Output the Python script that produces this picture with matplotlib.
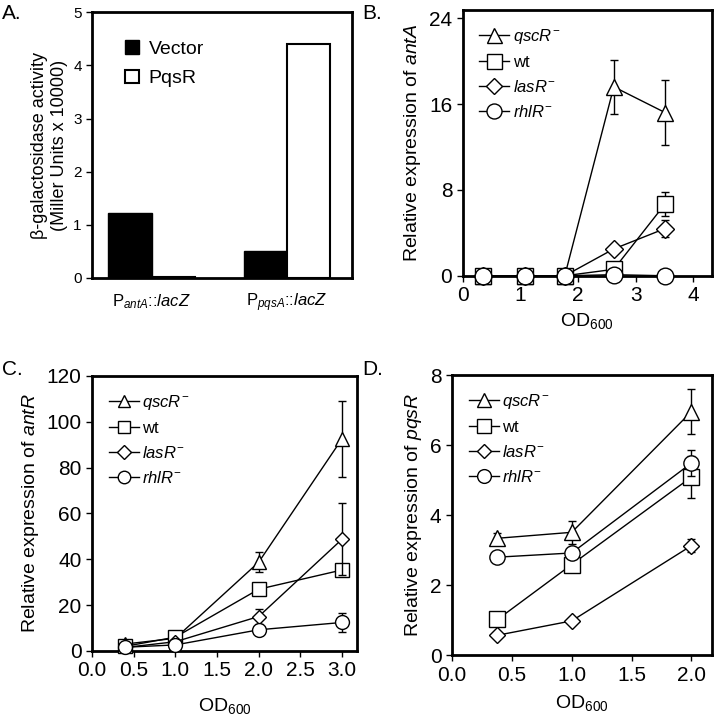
import numpy as np
import matplotlib
matplotlib.use("Agg")
import matplotlib.pyplot as plt
from matplotlib.lines import Line2D

plt.rcParams['font.family'] = ['Liberation Sans', 'DejaVu Sans']
plt.rcParams['mathtext.fontset'] = 'custom'
plt.rcParams['mathtext.rm'] = 'Liberation Sans'
plt.rcParams['mathtext.it'] = 'Liberation Sans:italic'
plt.rcParams['mathtext.bf'] = 'Liberation Sans:bold'

# panel A data
constructos = [r'P$_{\it{antA}}$::$\it{lacZ}$', r'P$_{\it{pqsA}}$::$\it{lacZ}$']
vector = [1.22, 0.5]
pqsr = [0.02, 4.4]

# panel B data (antA)
odB = [0.35, 1.08, 1.77, 2.62, 3.51]
antA_qscR = [0, 0, 0, 17.6, 15.2]
antA_qscR_err = [0, 0, 0, 2.5, 3.0]
antA_wt = [0, 0, 0, 0.6, 6.7]
antA_wt_err = [0, 0, 0, 0, 1.1]
antA_lasR = [0, 0, 0, 2.5, 4.4]
antA_lasR_err = [0, 0, 0, 0, 0.8]
antA_rhlR = [0, 0, 0, 0.1, 0]
antA_rhlR_err = [0, 0, 0, 0, 0]

# panel C data (antR)
odC = [0.4, 1.0, 2.0, 3.0]
antR_qscR = [3.0, 5.5, 38.7, 92.5]
antR_qscR_err = [0, 0, 4.3, 16.5]
antR_wt = [2.0, 6.0, 26.9, 35.3]
antR_wt_err = [0, 0, 1.5, 0]
antR_lasR = [1.5, 4.0, 15.0, 48.7]
antR_lasR_err = [0, 0, 3.3, 15.8]
antR_rhlR = [1.6, 2.6, 9.2, 12.4]
antR_rhlR_err = [0, 0, 0, 4.0]

# panel D data (pqsR)
odD = [0.38, 1.0, 2.0]
pqsR_qscR = [3.34, 3.51, 6.96]
pqsR_qscR_err = [0.15, 0.33, 0.65]
pqsR_wt = [1.02, 2.59, 5.09]
pqsR_wt_err = [0, 0, 0.6]
pqsR_lasR = [0.57, 0.98, 3.13]
pqsR_lasR_err = [0, 0, 0.18]
pqsR_rhlR = [2.80, 2.92, 5.49]
pqsR_rhlR_err = [0, 0, 0.36]

cepas = [r'$\it{qscR}^{-}$', 'wt', r'$\it{lasR}^{-}$', r'$\it{rhlR}^{-}$']
marcadores = ['^', 's', 'D', 'o']

fig = plt.figure(figsize=(7.14, 7.2), dpi=100)


def marco(ax):
    for s in ax.spines.values():
        s.set_linewidth(2)
    ax.tick_params(direction='out', length=4, width=1)


# ---- A ----
axA = fig.add_axes([0.129, 0.614, 0.364, 0.369])
x = np.arange(len(constructos))
w = 0.32
axA.bar(x - w / 2, vector, w, color='black', edgecolor='black', label='Vector')
axA.bar(x + w / 2, pqsr, w, color='white', edgecolor='black', linewidth=1.5, label='PqsR')
axA.set_xlim(-0.44, 1.48)
axA.set_ylim(0, 5)
axA.set_yticks(range(6))
axA.set_xticks(x)
axA.set_xticklabels(constructos, fontsize=12)
marco(axA)
axA.tick_params(axis='x', length=0, pad=10)
axA.tick_params(axis='y', labelsize=11)
axA.set_ylabel('β-galactosidase activity\n(Miller Units x 10000)', fontsize=13)
axA.legend(loc='upper left', bbox_to_anchor=(0.06, 0.96), frameon=False, fontsize=14,
           handlelength=0.7, handleheight=0.7, handletextpad=0.5, labelspacing=0.6)


def lineas(ax, xs, series, errores, ms, orden):
    tam = [ms if m != 'D' else ms * 0.75 for m in marcadores]
    for i in orden:
        ax.errorbar(xs, series[i], yerr=errores[i], color='black', lw=1,
                    marker=marcadores[i], ms=tam[i],
                    mfc='white', mec='black', mew=1, capsize=3, elinewidth=1,
                    clip_on=False, zorder=3 + i)
    hs = [Line2D([], [], color='black', lw=1, marker=marcadores[i], ms=tam[i] * 0.9,
                 mfc='white', mec='black', mew=1) for i in range(4)]
    ax.legend(hs, cepas, loc='upper left',
              frameon=False, fontsize=12, handlelength=1.8, handletextpad=0.2,
              labelspacing=0.55, borderaxespad=0.6)


# ---- B ----
axB = fig.add_axes([0.648, 0.617, 0.349, 0.369])
lineas(axB, odB, [antA_qscR, antA_wt, antA_lasR, antA_rhlR],
       [antA_qscR_err, antA_wt_err, antA_lasR_err, antA_rhlR_err], 12, [3, 0, 1, 2])
axB.set_xlim(0, 4.32)
axB.set_ylim(0, 24.75)
axB.set_yticks([0, 8, 16, 24])
axB.set_xticks([0, 1, 2, 3, 4])
marco(axB)
axB.tick_params(labelsize=15)
axB.set_ylabel(r'Relative expression of $\it{antA}$', fontsize=14)
axB.set_xlabel(r'OD$_{600}$', fontsize=14)

# ---- C ----
axC = fig.add_axes([0.129, 0.096, 0.371, 0.382])
lineas(axC, odC, [antR_qscR, antR_wt, antR_lasR, antR_rhlR],
       [antR_qscR_err, antR_wt_err, antR_lasR_err, antR_rhlR_err], 10, [0, 1, 2, 3])
axC.set_xlim(0, 3.18)
axC.set_ylim(0, 120)
axC.set_yticks(range(0, 121, 20))
axC.set_xticks(np.arange(0, 3.01, 0.5))
axC.set_xticklabels(['0.0', '0.5', '1.0', '1.5', '2.0', '2.5', '3.0'])
marco(axC)
axC.tick_params(labelsize=15)
axC.set_ylabel(r'Relative expression of $\it{antR}$', fontsize=14)
axC.set_xlabel(r'OD$_{600}$', fontsize=14, labelpad=11)

# ---- D ----
axD = fig.add_axes([0.633, 0.09, 0.364, 0.389])
lineas(axD, odD, [pqsR_qscR, pqsR_wt, pqsR_lasR, pqsR_rhlR],
       [pqsR_qscR_err, pqsR_wt_err, pqsR_lasR_err, pqsR_rhlR_err], 11, [0, 1, 2, 3])
axD.set_xlim(0, 2.17)
axD.set_ylim(0, 8)
axD.set_yticks([0, 2, 4, 6, 8])
axD.set_xticks([0, 0.5, 1.0, 1.5, 2.0])
axD.set_xticklabels(['0.0', '0.5', '1.0', '1.5', '2.0'])
marco(axD)
axD.tick_params(labelsize=15)
axD.set_ylabel(r'Relative expression of $\it{pqsR}$', fontsize=14)
axD.set_xlabel(r'OD$_{600}$', fontsize=14, labelpad=6)

# letras de panel
fig.text(0.003, 0.995, 'A.', fontsize=15, va='top')
fig.text(0.508, 0.995, 'B.', fontsize=15, va='top')
fig.text(0.003, 0.5, 'C.', fontsize=15, va='top')
fig.text(0.508, 0.5, 'D.', fontsize=15, va='top')

plt.savefig('out.png', dpi=100)
